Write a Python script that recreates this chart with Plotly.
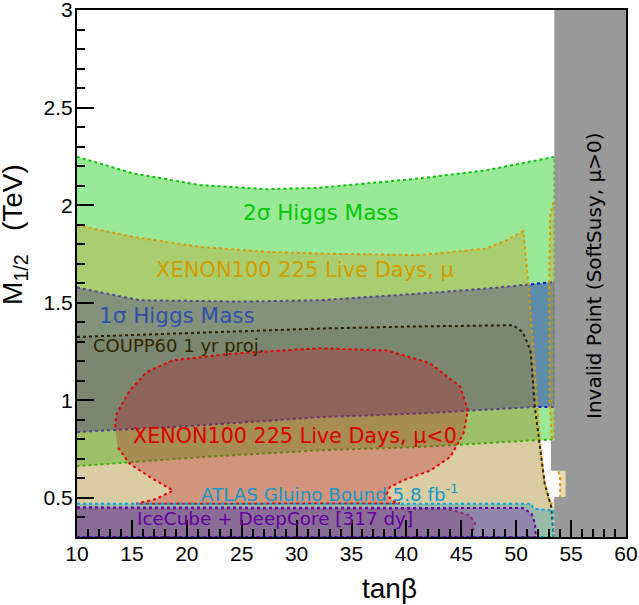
import plotly.graph_objects as go

# region boundaries (tanb, M_1/2 in TeV)
sig2_top_x = [10, 15.1, 21.2, 27.3, 32.1, 41.2, 47.3, 53.5]
sig2_top_y = [2.248, 2.163, 2.103, 2.082, 2.089, 2.137, 2.179, 2.248]
sig2_bot_x = [53.5, 51.5, 41.2, 32.1, 21.2, 10]
sig2_bot_y = [0.80, 0.795, 0.761, 0.744, 0.709, 0.663]

xen_x = [10, 15.1, 21.2, 27.3, 32.1, 41.2, 47.3, 49.1, 50.65,
         51.1, 51.56, 51.9, 52.2, 52.55, 52.9, 53.15,
         53.45, 54.0, 54.0, 53.75, 53.25, 53.05, 53.0, 53.0, 53.1, 53.4,
         60, 60, 10]
xen_y = [1.897, 1.838, 1.786, 1.761, 1.752, 1.744, 1.778, 1.82, 1.867,
         1.6, 1.256, 1.0, 0.76, 0.59, 0.504, 0.47,
         0.487, 0.504, 0.6, 0.66, 0.795, 1.0, 1.256, 1.6, 1.95, 2.017,
         2.017, 0.3, 0.3]

sig1_x = [10, 15.7, 25, 32.1, 41.2, 47.3, 53.5, 53.5, 51.5, 41.2, 32.1, 21.2, 10]
sig1_y = [1.578, 1.513, 1.506, 1.513, 1.547, 1.573, 1.607, 0.966, 0.966, 0.933, 0.914, 0.872, 0.838]

coupp_x = [10, 18.2, 32.1, 40, 49.7, 50.6, 51.3, 51.7, 52.17, 52.6, 53.2, 53.4, 10]
coupp_y = [1.325, 1.342, 1.368, 1.378, 1.385, 1.35, 1.256, 0.966, 0.76, 0.573, 0.453, 0.3, 0.3]

xneg_x = [13.46, 13.6, 14.8, 16.35, 18.7, 24.2, 32.1, 38.2, 42.15, 44.9, 45.6, 45.2,
          44.0, 42.15, 39.7, 38.5, 38.2, 38.7, 39.4, 15.4, 17.25, 18.75, 16.65, 14.8, 13.7]
xneg_y = [0.863, 0.93, 1.05, 1.145, 1.205, 1.24, 1.267, 1.256, 1.19, 1.07, 0.949, 0.83,
          0.71, 0.64, 0.59, 0.556, 0.52, 0.487, 0.472, 0.47, 0.496, 0.538, 0.607, 0.675, 0.76]
xneg2_x = [10, 43.7, 45.8, 46.25, 45.9, 10]
xneg2_y = [0.447, 0.445, 0.41, 0.37, 0.3, 0.3]

atlas_x = [10, 51.4, 51.56, 53.4, 53.4, 10]
atlas_y = [0.47, 0.47, 0.445, 0.436, 0.3, 0.3]

ice_x = [10, 50.6, 51.4, 51.7, 51.8, 10]
ice_y = [0.452, 0.448, 0.42, 0.37, 0.3, 0.3]

bad_x = [53.47, 60, 60, 53.47, 53.47, 54.5, 54.5, 53.17, 53.17, 53.47]
bad_y = [3, 3, 0.3, 0.3, 0.505, 0.505, 0.64, 0.64, 0.795, 0.795]

fig = go.Figure()


def region(x, y, line, fill):
    fig.add_trace(go.Scatter(x=x, y=y, mode='lines', fill='toself',
                             fillcolor=fill, line=dict(color=line, width=2, dash='dot'),
                             hoverinfo='skip'))


region(sig2_top_x + sig2_bot_x, sig2_top_y + sig2_bot_y, 'rgb(0,200,0)', 'rgba(0,200,0,0.4)')
region(sig1_x, sig1_y, 'rgb(20,20,210)', 'rgba(35,48,185,0.5)')
region(xen_x, xen_y, 'rgb(220,150,0)', 'rgba(198,159,38,0.36)')
region(coupp_x, coupp_y, 'rgb(40,30,0)', 'rgba(20,15,0,0.07)')
region(xneg_x, xneg_y, 'rgb(230,0,0)', 'rgba(190,20,35,0.3)')
region(xneg2_x, xneg2_y, 'rgb(200,0,60)', 'rgba(190,20,35,0.3)')
region(atlas_x, atlas_y, 'rgb(0,170,220)', 'rgba(8,143,182,0.3)')
region(ice_x, ice_y, 'rgb(110,0,170)', 'rgba(120,40,170,0.35)')
fig.add_trace(go.Scatter(x=bad_x, y=bad_y, mode='lines', fill='toself',
                         fillcolor='rgb(153,153,153)', line=dict(width=0), hoverinfo='skip'))

lab = 'DejaVu Sans'
notes = [
    (32.2, 1.964, '2σ Higgs Mass', 'rgb(0,200,0)', 21.5, 'center'),
    (30.8, 1.667, 'XENON100 225 Live Days, μ', 'rgb(210,155,0)', 21, 'center'),
    (11.8, 1.436, '1σ Higgs Mass', 'rgb(50,80,170)', 21.5, 'left'),
    (11.3, 1.282, 'COUPP60 1 yr proj.', 'rgb(50,38,0)', 18, 'left'),
    (29.85, 0.815, 'XENON100 225 Live Days, μ<0', 'rgb(220,0,0)', 20.7, 'center'),
    (21.1, 0.526, 'ATLAS Gluino Bound 5.8 fb<sup>-1</sup>', 'rgb(20,150,200)', 18.3, 'left'),
    (15.3, 0.397, 'IceCube + DeepCore [317 dy]', 'rgb(100,0,160)', 18.4, 'left'),
]
for x, y, t, c, s, a in notes:
    fig.add_annotation(x=x, y=y, text=t, showarrow=False, xanchor=a, yanchor='middle',
                       font=dict(family=lab, size=s, color=c))
fig.add_annotation(x=57.1, y=1.638, text='Invalid Point (SoftSusy, μ>0)', showarrow=False,
                   textangle=-90, xanchor='center', yanchor='middle',
                   font=dict(family=lab, size=20, color='black'))

ax = 'Liberation Sans'
fig.add_annotation(xref='paper', yref='paper', x=-0.113, y=0.575, textangle=-90,
                   xanchor='center', yanchor='middle',
                   text='M<sub>1/2</sub>\u00a0\u00a0\u00a0(TeV)', showarrow=False,
                   font=dict(family=ax, size=28, color='black'))
fig.add_annotation(xref='paper', yref='paper', x=0.569, y=-0.097, text='tanβ',
                   xanchor='center', yanchor='middle',
                   showarrow=False, font=dict(family=ax, size=28, color='black'))

axis = dict(showgrid=False, zeroline=False, showline=True, mirror=True, linecolor='black',
            linewidth=2, ticks='inside', ticklen=17, tickcolor='black', tickwidth=1.5,
            automargin=False, ticklabeloverflow='allow',
            tickfont=dict(family=ax, size=21, color='black'))
fig.update_xaxes(range=[10, 60], tick0=10, dtick=5, ticklabelstandoff=-3,
                 minor=dict(ticks='inside', ticklen=8, dtick=1, tickcolor='black'), **axis)
fig.update_yaxes(range=[0.3, 3], tick0=0.5, dtick=0.5, ticklabelstandoff=-2,
                 minor=dict(ticks='inside', ticklen=8, dtick=0.1, tickcolor='black'), **axis)
fig.update_layout(width=639, height=605, margin=dict(l=77, r=13, t=10, b=68),
                  showlegend=False, plot_bgcolor='white', paper_bgcolor='white')
fig.write_html('out.html', config={'displayModeBar': False},
               post_script="document.body.style.margin='0';")
